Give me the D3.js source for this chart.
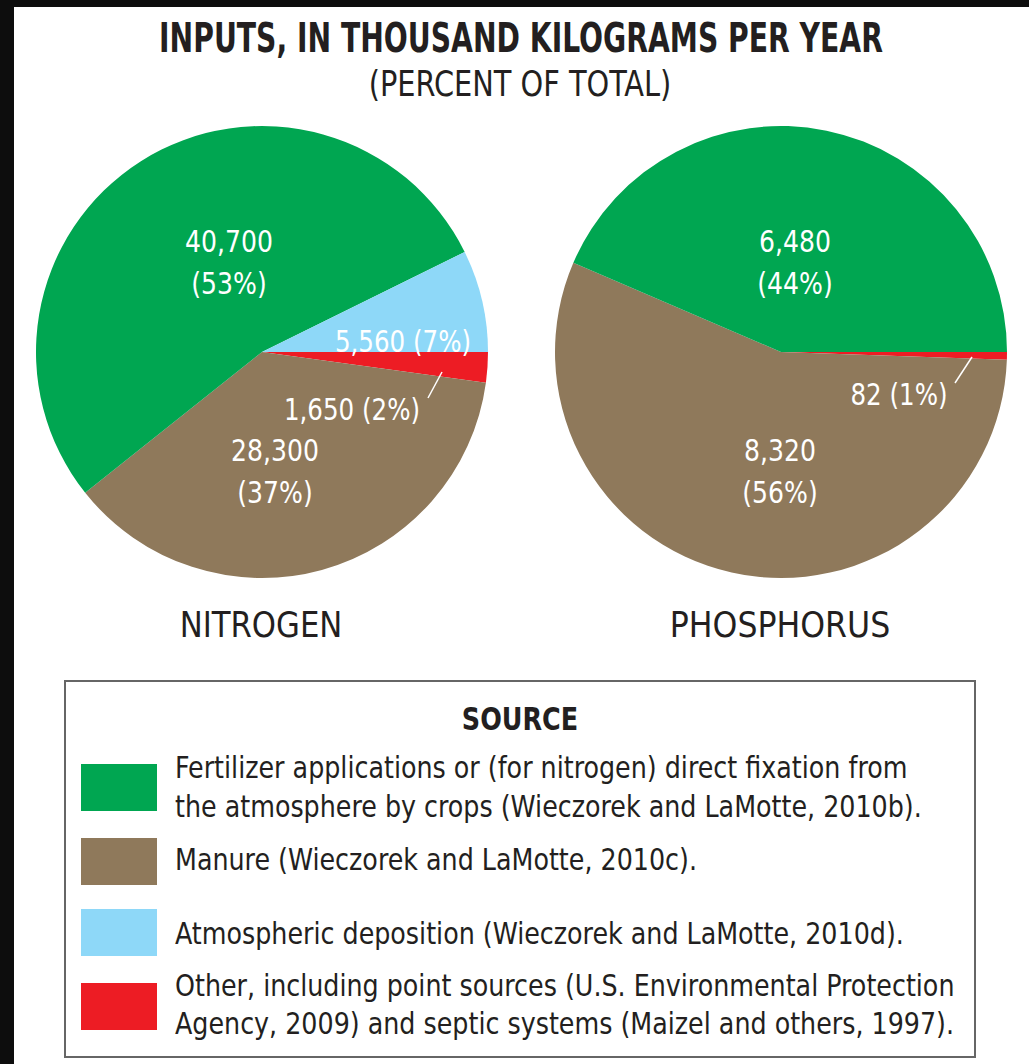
<!DOCTYPE html>
<html>
<head>
<meta charset="utf-8">
<script src="https://cdn.jsdelivr.net/npm/d3@7"></script>
<style>
  html, body { margin: 0; padding: 0; background: #fff; }
  svg text { font-family: "DejaVu Sans Condensed", "Liberation Sans Narrow", sans-serif; fill: #231f20; }
</style>
</head>
<body>
<div id="chart"></div>
<script>
// Nutrient inputs, thousand kg per year (pie order: clockwise from 3 o'clock)
const sources = ["other", "manure", "fertilizer", "atmospheric"];
const nitrogenValues = [1650, 28300, 40700, 5560];
const nitrogenPct = [2, 37, 53, 7];
const phosphorusValues = [82, 8320, 6480, 0];
const phosphorusPct = [1, 56, 44, 0];
const pieNames = ["NITROGEN", "PHOSPHORUS"];

const legendKeys = ["fertilizer", "manure", "atmospheric", "other"];
const legendText = [
    ["Fertilizer applications or (for nitrogen) direct fixation from",
     "the atmosphere by crops (Wieczorek and LaMotte, 2010b)."],
    ["Manure (Wieczorek and LaMotte, 2010c)."],
    ["Atmospheric deposition (Wieczorek and LaMotte, 2010d)."],
    ["Other, including point sources (U.S. Environmental Protection",
     "Agency, 2009) and septic systems (Maizel and others, 1997)."]
];

(function() {
    const width = 1029, height = 1064;
    const color = d3.scaleOrdinal()
        .domain(["fertilizer", "manure", "atmospheric", "other"])
        .range(["#00a651", "#8f795b", "#8ed8f8", "#ed1c24"]);

    const svg = d3.select("#chart")
        .append("svg")
        .attr("width", width)
        .attr("height", height);

    // put text at (x, y) squeezed horizontally, the original uses a condensed face
    function placeText(parent, x, y, k) {
        return parent.append("text")
            .attr("transform", `translate(${x},${y}) scale(${k},1)`);
    }

    // dark frame edges from the scan
    svg.append("rect").attr("x", 0).attr("y", 0).attr("width", width).attr("height", 7).attr("fill", "#0d0d0d");
    svg.append("rect").attr("x", 0).attr("y", 0).attr("width", 14).attr("height", height).attr("fill", "#0d0d0d");

    // Titles
    placeText(svg, 521, 52, 0.785)
        .attr("text-anchor", "middle")
        .style("font-size", "40px").style("font-weight", "bold")
        .text("INPUTS, IN THOUSAND KILOGRAMS PER YEAR");
    placeText(svg, 520, 96, 0.89)
        .attr("text-anchor", "middle")
        .style("font-size", "36px")
        .text("(PERCENT OF TOTAL)");

    const radius = 226;
    const centers = [[262, 352], [781, 352]];

    const pie = d3.pie()
        .sort(null)
        .value(d => d.value)
        .startAngle(Math.PI / 2)
        .endAngle(Math.PI / 2 + 2 * Math.PI);

    const arc = d3.arc().innerRadius(0).outerRadius(radius);

    // label offsets from pie centre (text block centre), per slice
    const labelPos = [
        {fertilizer: [-33, 0, -96], manure: [13, 0, 113], atmospheric: [141, -12, 0], other: [90, 56, 0]},
        {fertilizer: [14, 0, -96], manure: [-1, 0, 113], other: [118, 41, 0]}
    ];
    const leaderLines = [[[166, 46], [180, 20]], [[174, 31], [191, 5]]];

    const datasets = [
        {values: nitrogenValues, pct: nitrogenPct},
        {values: phosphorusValues, pct: phosphorusPct}
    ];

    datasets.forEach((ds, i) => {
        const data = sources.map((s, j) => ({key: s, value: ds.values[j], pct: ds.pct[j]}))
            .filter(d => d.value > 0);
        const [cx, cy] = centers[i];
        const g = svg.append("g").attr("transform", `translate(${cx},${cy})`);

        g.selectAll("path")
            .data(pie(data))
            .enter()
            .append("path")
            .attr("d", arc)
            .attr("fill", d => color(d.data.key));

        const fmt = d3.format(",");
        data.forEach(d => {
            const p = labelPos[i][d.key];
            if (!p) return;
            if (p[2] !== 0) {
                // two-line label
                placeText(g, p[0], p[2] - 4, 0.9)
                    .attr("text-anchor", "middle")
                    .style("font-size", "31px").style("fill", "#fff")
                    .text(fmt(d.value));
                placeText(g, p[0], p[2] + 38, 0.9)
                    .attr("text-anchor", "middle")
                    .style("font-size", "31px").style("fill", "#fff")
                    .text(`(${d.pct}%)`);
            } else {
                placeText(g, p[0], p[1] + 12, 0.88)
                    .attr("text-anchor", "middle")
                    .style("font-size", "31px").style("fill", "#fff")
                    .text(`${fmt(d.value)} (${d.pct}%)`);
            }
        });

        const ll = leaderLines[i];
        g.append("line")
            .attr("x1", ll[0][0]).attr("y1", ll[0][1])
            .attr("x2", ll[1][0]).attr("y2", ll[1][1])
            .attr("stroke", "#fff")
            .attr("stroke-width", 1.5);

        placeText(svg, cx - 1, 637, i === 0 ? 0.95 : 0.975)
            .attr("text-anchor", "middle")
            .style("font-size", "36px")
            .text(pieNames[i]);
    });

    // Legend
    const legend = svg.append("g");
    legend.append("rect")
        .attr("x", 65).attr("y", 681)
        .attr("width", 910).attr("height", 376)
        .attr("fill", "#fff")
        .attr("stroke", "#666")
        .attr("stroke-width", 2);
    placeText(legend, 520, 730, 0.885)
        .attr("text-anchor", "middle")
        .style("font-size", "32px").style("font-weight", "bold")
        .text("SOURCE");

    const swatchY = [764, 838, 909, 983];
    const textY = [[778, 817], [870], [944], [996, 1034]];
    legendKeys.forEach((k, i) => {
        legend.append("rect")
            .attr("x", 81).attr("y", swatchY[i])
            .attr("width", 76).attr("height", 47)
            .attr("fill", color(k));
        legendText[i].forEach((line, j) => {
            placeText(legend, 175, textY[i][j], 0.91)
                .style("font-size", "31px")
                .text(line);
        });
    });
})();
</script>
</body>
</html>
